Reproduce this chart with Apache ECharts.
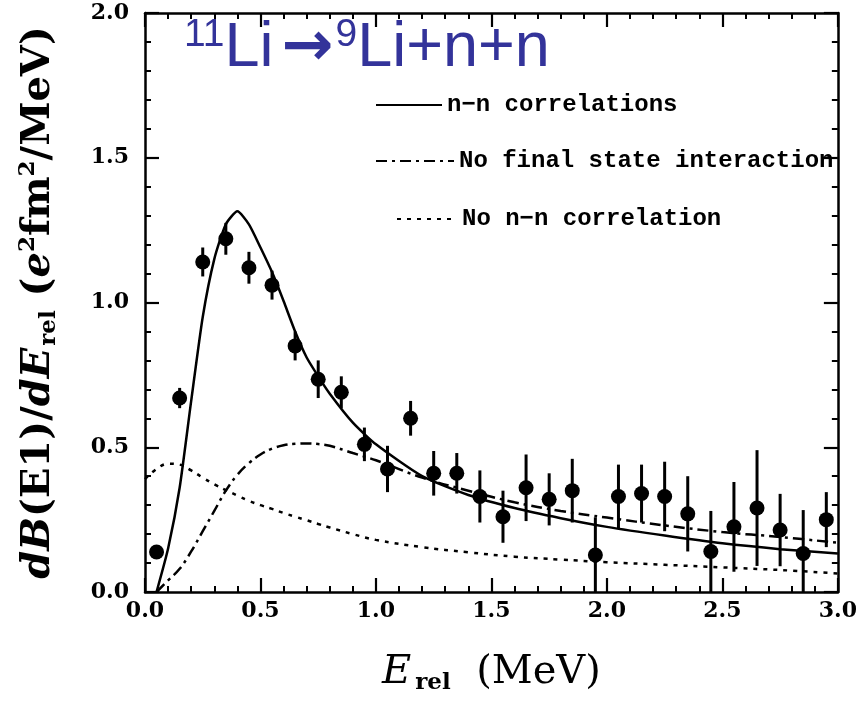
<!DOCTYPE html>
<html>
<head>
<meta charset="utf-8">
<script src="https://cdn.jsdelivr.net/npm/echarts@6/dist/echarts.min.js"></script>
<style>
  html, body { margin: 0; padding: 0; background: #fff; }
  #chart { width: 860px; height: 702px; }
</style>
</head>
<body>
<div id="chart"></div>
<script>
// measured points (E_rel, dB/dE, error)
const pointE = [0.05, 0.15, 0.25, 0.35, 0.45, 0.55, 0.65, 0.75, 0.85, 0.95,
  1.05, 1.15, 1.25, 1.35, 1.45, 1.55, 1.65, 1.75, 1.85, 1.95,
  2.05, 2.15, 2.25, 2.35, 2.45, 2.55, 2.65, 2.75, 2.85, 2.95];
const pointB = [0.138, 0.67, 1.14, 1.22, 1.12, 1.06, 0.85, 0.735, 0.69, 0.51,
  0.425, 0.60, 0.41, 0.41, 0.33, 0.26, 0.36, 0.32, 0.35, 0.128,
  0.33, 0.34, 0.33, 0.27, 0.14, 0.225, 0.29, 0.214, 0.133, 0.25];
const pointErr = [0.02, 0.035, 0.05, 0.055, 0.055, 0.05, 0.05, 0.065, 0.055, 0.058,
  0.08, 0.06, 0.077, 0.07, 0.09, 0.09, 0.115, 0.09, 0.11, 0.13,
  0.11, 0.10, 0.12, 0.13, 0.14, 0.155, 0.20, 0.125, 0.15, 0.095];

// calculated curves on a common energy grid
const curveE = [0.0, 0.05, 0.1, 0.15, 0.2, 0.25, 0.3, 0.35, 0.4, 0.45, 0.5, 0.55, 0.6, 0.65,
  0.7, 0.75, 0.8, 0.9, 1.0, 1.2, 1.4, 1.6, 1.8, 2.0, 2.25, 2.5, 2.75, 3.0];
const nnCorr = [null, 0.0, 0.15, 0.36, 0.66, 0.95, 1.15, 1.27, 1.315, 1.27, 1.19, 1.105, 1.005, 0.9,
  0.81, 0.745, 0.685, 0.585, 0.51, 0.40, 0.335, 0.29, 0.255, 0.225, 0.195, 0.168, 0.148, 0.133];
const noFsi = [null, 0.0, 0.04, 0.08, 0.14, 0.21, 0.28, 0.35, 0.405, 0.445, 0.475, 0.495, 0.507, 0.512,
  0.513, 0.511, 0.505, 0.48, 0.455, 0.395, 0.35, 0.31, 0.28, 0.257, 0.23, 0.207, 0.19, 0.17];
const noNn = [0.39, 0.425, 0.443, 0.44, 0.42, 0.395, 0.372, 0.352, 0.333, 0.315, 0.30, 0.287, 0.273, 0.26,
  0.248, 0.235, 0.223, 0.20, 0.18, 0.155, 0.137, 0.122, 0.112, 0.103, 0.094, 0.085, 0.076, 0.064];

const xTicks = ['0.0', '0.5', '1.0', '1.5', '2.0', '2.5', '3.0'];
const yTicks = ['0.0', '0.5', '1.0', '1.5', '2.0'];

const serif = 'DejaVu Serif';
const pair = (xs, ys) => xs.map((x, i) => [x, ys[i]]);

const chart = echarts.init(document.getElementById('chart'));

const tickAxis = (pos, showLabel, ticks) => ({
  type: 'value',
  position: pos,
  min: 0,
  max: pos === 'left' || pos === 'right' ? 2 : 3,
  interval: 0.5,
  axisLine: { show: true, onZero: false, lineStyle: { color: '#000', width: 2.5 } },
  axisTick: { show: true, inside: true, length: 14, lineStyle: { color: '#000', width: 2.2 } },
  minorTick: { show: true, splitNumber: 5, length: 6, lineStyle: { color: '#000', width: 2 } },
  splitLine: { show: false },
  axisLabel: {
    show: showLabel,
    color: '#000',
    fontFamily: serif,
    fontWeight: 'bold',
    fontSize: 22,
    margin: pos === 'left' ? 16 : 8,
    formatter: (v) => ticks[Math.round(v / 0.5)]
  }
});

const xName = {
  i: { fontFamily: serif, fontStyle: 'italic', fontSize: 40, color: '#000' },
  r: { fontFamily: serif, fontSize: 40, color: '#000' },
  sub: { fontFamily: serif, fontWeight: 'bold', fontSize: 23, color: '#000', padding: [22, 0, 0, 4] }
};
const yName = {
  i: { fontFamily: serif, fontStyle: 'italic', fontWeight: 'bold', fontSize: 40, color: '#000' },
  r: { fontFamily: serif, fontWeight: 'bold', fontSize: 40, color: '#000' },
  sub: { fontFamily: serif, fontWeight: 'bold', fontSize: 23, color: '#000', padding: [22, 0, 0, 2] },
  sup: { fontFamily: serif, fontWeight: 'bold', fontSize: 23, color: '#000', padding: [0, 0, 20, 0] }
};

const xBottom = tickAxis('bottom', true, xTicks);
xBottom.name = '{i|E}{sub|rel}{r|  (MeV)}';
xBottom.nameLocation = 'middle';
xBottom.nameGap = 58;
xBottom.nameTextStyle = { rich: xName };

const yLeft = tickAxis('left', true, yTicks);
yLeft.name = '{i|dB}{r|(E1)/}{i|dE}{sub|rel}{r| (}{i|e}{sup|2}{r|fm}{sup|2}{r|/MeV)}';
yLeft.nameLocation = 'middle';
yLeft.nameGap = 84;
yLeft.nameTextStyle = { rich: yName };

const legendText = { fontFamily: 'Liberation Mono', fontWeight: 'bold', fontSize: 24, color: '#000' };
const legendBase = {
  padding: 0,
  itemHeight: 14,
  textStyle: legendText,
  itemStyle: { opacity: 0 },
  selectedMode: false
};

chart.setOption({
  animation: false,
  backgroundColor: '#fff',
  grid: { left: 145, right: 22, top: 13, bottom: 110 },
  title: {
    text: '{sup|11}{m|Li}{a|→}{sup|9}{m|Li+n+n}',
    left: 184,
    top: 16,
    padding: 0,
    textStyle: {
      fontWeight: 'normal',
      rich: {
        m: { fontFamily: 'Liberation Sans', fontWeight: 'normal', fontSize: 63, color: '#33339a' },
        a: { fontFamily: 'DejaVu Sans', fontWeight: 'bold', fontSize: 62, color: '#33339a', padding: [0, 2, 0, 8] },
        sup: { fontFamily: 'Liberation Sans', fontWeight: 'normal', fontSize: 39, color: '#33339a', padding: [0, 0, 26, 0] }
      }
    }
  },
  legend: [
    Object.assign({ data: ['n−n correlations'], left: 375, top: 93, itemWidth: 66 }, legendBase),
    Object.assign({ data: ['No final state interaction'], left: 375, top: 149, itemWidth: 78 }, legendBase),
    Object.assign({ data: ['No n−n correlation'], left: 396, top: 207, itemWidth: 60 }, legendBase)
  ],
  xAxis: [xBottom, tickAxis('top', false, xTicks)],
  yAxis: [yLeft, tickAxis('right', false, yTicks)],
  series: [
    {
      name: 'n−n correlations',
      type: 'line',
      data: pair(curveE, nnCorr),
      smooth: 0.2,
      showSymbol: false,
      symbol: 'none',
      lineStyle: { color: '#000', width: 2.5 },
      itemStyle: { color: '#000' },
      z: 3
    },
    {
      name: 'No final state interaction',
      type: 'line',
      data: pair(curveE, noFsi),
      smooth: 0.4,
      showSymbol: false,
      symbol: 'none',
      lineStyle: { color: '#000', width: 2.5, type: [11, 5, 3, 5] },
      itemStyle: { color: '#000' },
      z: 3
    },
    {
      name: 'No n−n correlation',
      type: 'line',
      data: pair(curveE, noNn),
      smooth: 0.4,
      showSymbol: false,
      symbol: 'none',
      lineStyle: { color: '#000', width: 2.5, type: [4, 6] },
      itemStyle: { color: '#000' },
      z: 3
    },
    {
      name: 'errors',
      type: 'custom',
      clip: true,
      data: pointE.map((x, i) => [x, pointB[i], pointErr[i]]),
      renderItem: (params, api) => {
        const x = api.value(0), y = api.value(1), e = api.value(2);
        const hi = api.coord([x, y + e]);
        const lo = api.coord([x, y - e]);
        return {
          type: 'line',
          shape: { x1: hi[0], y1: hi[1], x2: lo[0], y2: lo[1] },
          style: { stroke: '#000', lineWidth: 3 }
        };
      },
      z: 4
    },
    {
      name: 'data',
      type: 'scatter',
      data: pair(pointE, pointB),
      symbol: 'circle',
      symbolSize: 15,
      itemStyle: { color: '#000', opacity: 1 },
      z: 5
    }
  ]
});

window.addEventListener('resize', () => chart.resize());
</script>
</body>
</html>
